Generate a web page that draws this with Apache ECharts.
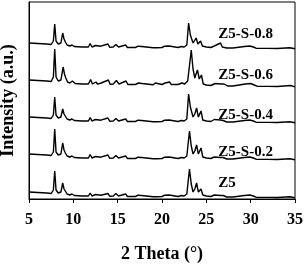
<!DOCTYPE html>
<html><head><meta charset="utf-8">
<script src="https://cdn.jsdelivr.net/npm/echarts@6/dist/echarts.min.js"></script>
<style>html,body{margin:0;padding:0;background:#fff}#c{width:305px;height:265px}</style>
</head><body><div id="c"></div>
<script>
var seriesNames = ['Z5', 'Z5-S-0.2', 'Z5-S-0.4', 'Z5-S-0.6', 'Z5-S-0.8'];
var xTicks = [5, 10, 15, 20, 25, 30, 35];
var labelX = [26.3, 26.3, 26.3, 26.3, 26.3];
var labelY = [16, 47, 84, 124, 165];

var z5 = [[5,7],[6,6.5],[7,6],[7.5,5.5],[7.75,9],[7.9,28],[8.05,9],[8.3,6],[8.6,7],[8.8,16],[8.95,10],[9.1,8],[9.3,5],[9.6,4],[9.85,5],[10.1,3.5],[11,3],[11.7,3],[11.9,6],[12.1,3],[12.5,4.5],[12.7,2.8],[13.1,3.8],[13.3,2.7],[13.9,5.5],[14.1,2.8],[14.5,3],[14.8,5.5],[15.1,3],[15.5,4],[15.7,3],[15.9,5],[16.1,2.5],[17,2.5],[17.3,3.8],[17.5,2.3],[17.7,3.5],[17.9,2.2],[19,2.2],[19.2,3.5],[19.4,2.2],[20,2.5],[20.3,3.8],[20.5,2.5],[20.8,4],[21,2.5],[21.8,2.5],[22.2,3.5],[22.5,3],[22.8,5],[23.1,30],[23.3,15],[23.5,7],[23.7,10],[23.9,16],[24.1,7],[24.4,10],[24.6,4],[25,3],[25.5,2.5],[25.9,4],[26.1,2.5],[26.6,3.5],[26.9,3.5],[27.3,2],[28,2],[29.3,3.5],[29.5,2],[29.9,4],[30.1,2.5],[30.3,3],[30.6,1.8],[32,1.6],[33,1.5],[34.4,2.3],[34.6,1.3],[35,1.2]];

var z5s02 = [[5,45],[6,44.5],[7,44],[7.5,43.5],[7.75,47],[7.9,70],[8.05,47],[8.3,44],[8.6,45],[8.8,56],[8.95,49],[9.1,46],[9.3,43],[9.6,42],[9.85,43],[10.1,41.5],[11,41],[11.7,41],[11.9,44.5],[12.1,41],[12.5,42.5],[12.7,40.8],[13.1,41.8],[13.3,40.7],[13.9,44],[14.1,40.8],[14.5,41],[14.8,43.5],[15.1,41],[15.5,42],[15.7,41],[15.9,43],[16.1,40.5],[17,40.5],[17.3,41.8],[17.5,40.3],[17.7,41.5],[17.9,40.2],[19,40.2],[19.2,41.5],[19.4,40.2],[20,40.5],[20.3,41.8],[20.5,40.5],[20.8,42],[21,40.5],[21.8,40.5],[22.2,41.5],[22.5,41],[22.8,43],[23.1,68],[23.3,53],[23.5,45],[23.7,48],[23.9,54],[24.1,45],[24.4,51],[24.6,42],[25,41],[25.5,40.5],[25.9,42],[26.1,40.5],[26.6,41.5],[26.9,41.5],[27.3,40],[28,40],[29.3,41.5],[29.5,40],[29.9,42],[30.1,40.5],[30.3,41],[30.6,39.8],[32,39.6],[33,39.5],[34.4,40.3],[34.6,39.3],[35,39.2]];

var z5s04 = [[5,82],[6,81.5],[7,81],[7.5,80.5],[7.75,84],[7.9,102],[8.05,84],[8.3,81],[8.6,82],[8.8,90],[8.95,85],[9.1,83],[9.3,80],[9.6,79],[9.85,80],[10.1,78.5],[11,78],[11.7,78],[11.9,81.5],[12.1,78],[12.5,79.5],[12.7,77.8],[13.1,78.8],[13.3,77.7],[13.9,81],[14.1,77.8],[14.5,78],[14.8,80.5],[15.1,78],[15.5,79],[15.7,78],[15.9,80],[16.1,77.5],[17,77.5],[17.3,78.8],[17.5,77.3],[17.7,78.5],[17.9,77.2],[19,77.2],[19.2,78.5],[19.4,77.2],[20,77.5],[20.3,78.8],[20.5,77.5],[20.8,79],[21,77.5],[21.8,77.5],[22.2,78.5],[22.5,78],[22.8,80],[23.0,105],[23.2,92],[23.5,82],[23.7,85],[23.9,91],[24.1,82],[24.4,88],[24.6,79],[25,78],[25.5,77.5],[25.9,79.5],[26.1,77.5],[26.6,79],[26.9,78.5],[27.3,77],[28,77],[29.3,78.5],[29.5,77],[29.9,79],[30.1,77.5],[30.3,78],[30.6,76.8],[32,76.6],[33,76.5],[34.4,77.3],[34.6,76.3],[35,76.2]];

var z5s06 = [[5,119],[6,118.5],[7,118],[7.5,117.5],[7.75,122],[7.9,150],[8.05,122],[8.3,118],[8.6,119],[8.85,132],[9.0,125],[9.15,121],[9.35,117],[9.6,116],[9.9,118],[10.2,115.5],[11,115],[11.7,115],[11.95,119.5],[12.15,115],[12.55,117],[12.75,114.8],[13.15,116],[13.35,114.7],[13.95,119],[14.15,114.8],[14.5,115],[14.85,118.5],[15.15,115],[15.55,116.5],[15.75,115],[15.95,118],[16.15,114.5],[17,114.5],[17.35,116],[17.55,114.3],[17.75,115.5],[17.95,114.2],[19,114.2],[19.25,116],[19.45,114.2],[20,114.5],[20.35,116],[20.55,114.5],[20.85,117],[21.05,114.5],[21.8,114.5],[22.25,116],[22.55,115],[22.9,118],[23.3,149],[23.5,130],[23.7,121],[23.8,124],[24.0,129],[24.2,120],[24.45,124],[24.65,115],[25,114],[25.5,113.5],[26.0,115.5],[26.2,113.5],[26.7,115],[27.0,115],[27.4,113],[28,113],[29.4,115],[29.6,113],[30.0,115.5],[30.2,113.5],[30.4,114],[30.7,112.8],[32,112.6],[33,112.5],[34.5,113.5],[34.7,112.3],[35,112.2]];

var z5s08 = [[5,156],[6,155.5],[7,155],[7.5,154.5],[7.75,158],[7.9,175],[8.05,158],[8.3,155],[8.6,156],[8.8,166],[8.95,160],[9.1,157],[9.3,154],[9.6,153],[9.85,154],[10.1,152.5],[11,152],[11.7,152],[11.9,155.5],[12.1,152],[12.5,153.5],[12.7,151.8],[13.1,152.8],[13.3,151.7],[13.9,155],[14.1,151.8],[14.5,152],[14.8,154.5],[15.1,152],[15.5,153],[15.7,152],[15.9,154],[16.1,151.5],[17,151.5],[17.3,152.8],[17.5,151.3],[17.7,152.5],[17.9,151.2],[19,151.2],[19.2,152.5],[19.4,151.2],[20,151.5],[20.3,152.8],[20.5,151.5],[20.8,153],[21,151.5],[21.8,151.5],[22.2,152.5],[22.5,152],[22.8,154],[23.0,176],[23.2,164],[23.5,156],[23.7,158],[23.85,161],[24.05,155],[24.35,158],[24.55,153],[25,152],[25.5,151.5],[25.9,153],[26.1,151.5],[26.6,156],[26.8,152],[27.3,151],[28,151],[29.3,152.5],[29.5,151],[29.9,153],[30.1,151.5],[30.3,152],[30.6,150.8],[32,150.6],[33,150.5],[34.4,151.3],[34.6,150.3],[35,150.2]];

var allData = [z5, z5s02, z5s04, z5s06, z5s08];

var chart = echarts.init(document.getElementById('c'));
var FONT = 'Liberation Serif';
var series = allData.map(function (d, i) {
  return {
    name: seriesNames[i], type: 'line', data: d, symbol: 'none', animation: false,
    lineStyle: {color: '#000', width: 1.4},
    markPoint: {
      symbol: 'circle', symbolSize: 1, itemStyle: {color: 'rgba(0,0,0,0)'},
      data: [{coord: [labelX[i], labelY[i]], value: seriesNames[i]}],
      label: {show: true, position: 'right', distance: 0,
        formatter: seriesNames[i], color: '#000', fontFamily: FONT, fontWeight: 'bold', fontSize: 15}
    }
  };
});
chart.setOption({
  animation: false,
  grid: {left: 29, right: 10, top: 2, bottom: 66, show: true, borderColor: '#000', borderWidth: 1,
    containLabel: false, outerBoundsMode: 'none'},
  xAxis: {
    type: 'value', min: 5, max: 35, interval: 5,
    name: '2 Theta (°)', nameLocation: 'middle', nameGap: 46,
    nameTextStyle: {color: '#000', fontFamily: FONT, fontWeight: 'bold', fontSize: 18},
    axisLine: {show: true, lineStyle: {color: '#000', width: 1}},
    axisTick: {show: true, inside: false, length: 4, lineStyle: {color: '#000'}},
    axisLabel: {color: '#000', fontFamily: FONT, fontWeight: 'bold', fontSize: 16, margin: 13,
      formatter: function (v) { return xTicks.indexOf(v) >= 0 ? String(v) : ''; }},
    splitLine: {show: false}
  },
  yAxis: {
    type: 'value', min: 0, max: 197,
    name: 'Intensity (a.u.)', nameLocation: 'middle', nameGap: 12,
    nameTextStyle: {color: '#000', fontFamily: FONT, fontWeight: 'bold', fontSize: 18},
    axisLine: {show: true, lineStyle: {color: '#000', width: 1}},
    axisTick: {show: false}, axisLabel: {show: false}, splitLine: {show: false}
  },
  series: series
});
</script></body></html>
